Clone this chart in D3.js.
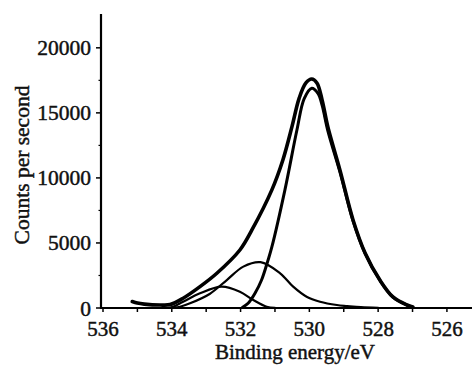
<!DOCTYPE html>
<html lang="en">
<head>
  <meta charset="UTF-8">
  <script src="https://d3js.org/d3.v7.min.js"></script>
  <title>O 1s XPS spectrum</title>
  <style>
    body {
      margin: 0;
      background: #fff;
      overflow: hidden;
    }
    text {
      font-family: "Liberation Serif", "DejaVu Serif", serif;
      fill: #111;
      stroke: #111;
      stroke-width: 0.45px;
    }
  </style>
</head>
<body>
<script>
  // Values: [binding energy (eV), counts per second]
  const envelope = [
    [535.15, 500], [535.0, 380], [534.8, 300], [534.34, 230], [534.05, 260],
    [533.67, 750], [533.18, 1640], [532.69, 2670], [532.02, 4460],
    [531.67, 6000], [531.09, 9080], [530.77, 11380], [530.5, 14000],
    [530.3, 16100], [530.1, 17300], [529.93, 17600], [529.78, 17300],
    [529.63, 16000], [529.46, 13900], [529.11, 10600], [528.73, 6770],
    [528.38, 4230], [527.95, 2150], [527.57, 850], [527.16, 230], [526.99, 80]
  ];
  const mainPeak = [
    [531.95, 40], [531.78, 360], [531.58, 1130], [531.39, 2150],
    [531.2, 3690], [531.09, 4690], [530.71, 9080], [530.36, 13700],
    [530.15, 16100], [529.93, 16900], [529.75, 16500], [529.63, 15600],
    [529.46, 13600], [529.11, 10450], [528.73, 6700], [528.38, 4200],
    [527.95, 2130], [527.57, 840], [527.16, 220], [526.99, 60]
  ];
  const peak2 = [
    [533.95, 20], [533.76, 100], [533.47, 360], [532.9, 1080], [532.4, 2150],
    [531.92, 3180], [531.42, 3520], [530.85, 2670], [530.47, 1640],
    [530.08, 870], [529.69, 485], [529.2, 230], [528.9, 150], [528.5, 60],
    [528.0, 20]
  ];
  const peak3 = [
    [534.1, 20], [533.96, 100], [533.67, 485], [533.18, 1130], [532.55, 1640],
    [532.02, 1250], [531.63, 615], [531.24, 100], [531.0, 20]
  ];
  const xTicks = [536, 534, 532, 530, 528, 526];
  const xMinorTicks = [535, 533, 531, 529, 527];
  const yTicks = [0, 5000, 10000, 15000, 20000];
  const yMinorTicks = [2500, 7500, 12500, 17500];

  const width = 472, height = 365;
  const svg = d3.select("body").append("svg")
    .attr("width", width)
    .attr("height", height);

  // Energy axis runs high to low
  const x = d3.scaleLinear().domain([536, 525.3]).range([103, 471]);
  const y = d3.scaleLinear().domain([0, 22600]).range([308, 14]);
  const x0 = 101;

  // curves
  const line = d3.line()
    .x(d => x(d[0]))
    .y(d => y(d[1]))
    .curve(d3.curveCatmullRom.alpha(0.5));

  const curves = [
    { data: peak3, w: 2.2 },
    { data: peak2, w: 2.2 },
    { data: mainPeak, w: 3 },
    { data: envelope, w: 3.6 }
  ];
  svg.append("g").selectAll("path")
    .data(curves)
    .enter().append("path")
    .attr("d", d => line(d.data.slice().sort((a, b) => b[0] - a[0])))
    .attr("fill", "none")
    .attr("stroke", "#000")
    .attr("stroke-width", d => d.w)
    .attr("stroke-linejoin", "round")
    .attr("stroke-linecap", "round");

  // x axis
  const xAxis = svg.append("g");
  xAxis.append("line")
    .attr("x1", x0).attr("x2", width)
    .attr("y1", y(0)).attr("y2", y(0))
    .attr("stroke", "#000").attr("stroke-width", 2.2);
  xAxis.selectAll(".xt")
    .data(xTicks.concat(xMinorTicks))
    .enter().append("line")
    .attr("x1", d => x(d)).attr("x2", d => x(d))
    .attr("y1", y(0)).attr("y2", y(0) + 4)
    .attr("stroke", "#000").attr("stroke-width", 1.5);
  xAxis.selectAll(".xl")
    .data(xTicks)
    .enter().append("text")
    .attr("x", d => x(d))
    .attr("y", 336)
    .attr("text-anchor", "middle")
    .attr("font-size", 21)
    .text(d => d);
  svg.append("text")
    .attr("x", 295)
    .attr("y", 359)
    .attr("text-anchor", "middle")
    .attr("font-size", 21)
    .text("Binding energy/eV");

  // y axis
  const yAxis = svg.append("g");
  yAxis.append("line")
    .attr("x1", x0).attr("x2", x0)
    .attr("y1", 14).attr("y2", y(0) + 1)
    .attr("stroke", "#000").attr("stroke-width", 2.2);
  yAxis.selectAll(".yt")
    .data(yTicks)
    .enter().append("line")
    .attr("x1", x0 - 5).attr("x2", x0)
    .attr("y1", d => y(d)).attr("y2", d => y(d))
    .attr("stroke", "#000").attr("stroke-width", 1.5);
  yAxis.selectAll(".ym")
    .data(yMinorTicks)
    .enter().append("line")
    .attr("x1", x0 - 2.5).attr("x2", x0)
    .attr("y1", d => y(d)).attr("y2", d => y(d))
    .attr("stroke", "#000").attr("stroke-width", 1.2);
  yAxis.selectAll(".yl")
    .data(yTicks)
    .enter().append("text")
    .attr("x", 91)
    .attr("y", d => y(d) + 7.5)
    .attr("text-anchor", "end")
    .attr("font-size", 21.5)
    .text(d => d);
  svg.append("text")
    .attr("transform", "translate(29,165) rotate(-90)")
    .attr("text-anchor", "middle")
    .attr("font-size", 21.5)
    .text("Counts per second");
</script>
</body>
</html>
